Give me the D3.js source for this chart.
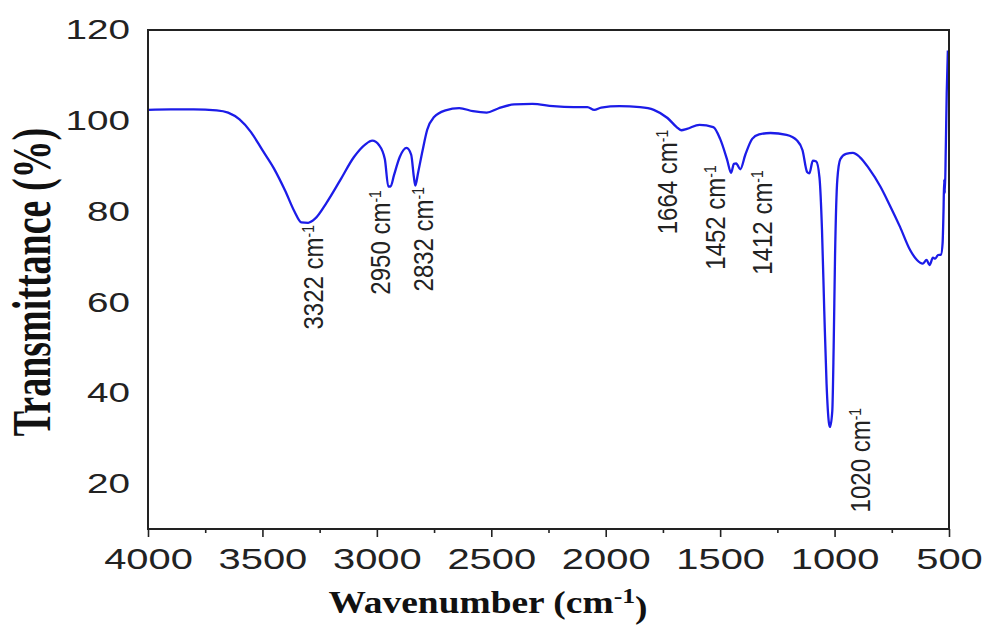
<!DOCTYPE html>
<html>
<head>
<meta charset="utf-8">
<script src="https://cdn.jsdelivr.net/npm/d3@7"></script>
<style>
  body { margin: 0; background: #fff; }
  svg.vis { display: block; }
  .tick text { font-family: "Liberation Sans", Arial, sans-serif; fill: #222; }
  .tick line { stroke: #222; stroke-width: 1.6; }
</style>
</head>
<body>
<svg class="vis" width="988" height="625"></svg>
<script>
// FTIR spectrum
const wavenumber = [
  4000, 3900, 3800, 3700, 3650, 3600, 3550, 3500, 3450, 3400, 3360, 3330, 3300, 3270,
  3220, 3160, 3100, 3050, 3020, 2990, 2965, 2950, 2940, 2925, 2900, 2870, 2850, 2838,
  2832, 2820, 2800, 2780, 2750, 2700, 2640, 2580, 2520, 2470, 2400, 2320, 2230, 2140,
  2080, 2050, 2020, 1940, 1850, 1790, 1730, 1690, 1670, 1645, 1590, 1530, 1500, 1470,
  1452, 1440, 1430, 1412, 1390, 1360, 1330, 1280, 1210, 1165, 1140, 1120, 1110, 1095,
  1080, 1066, 1055, 1045, 1035, 1025, 1020, 1010, 1004, 998, 988, 975, 950, 920, 890,
  850, 800, 760, 714, 670, 640, 615, 598, 585, 570, 560, 548, 535, 528, 524, 521, 518,
  514, 510, 505
];
const transmittance = [
  102.4, 102.5, 102.5, 102.3, 101.8, 100.3, 97.5, 93.5, 89.5, 84.5, 80, 77.6, 77.5, 78.4,
  81.9, 86.9, 92, 94.8, 95.6, 94.6, 91.5, 85.5, 85.5, 88, 92, 94, 92.5, 87.5,
  85.7, 88.5, 93.5, 98, 100.8, 102.3, 102.8, 102.1, 101.8, 102.7, 103.6, 103.7, 103.2, 103,
  103, 102.4, 102.9, 103.2, 103, 102.4, 100.6, 98.6, 97.9, 98.2, 99.1, 98.6, 96, 91.5,
  88.5, 90.5, 90.6, 89.3, 92.5, 96, 97, 97.3, 96.9, 95.7, 93.5, 88.7, 88.4, 91.2,
  91, 87.5, 76, 58, 42, 33.5, 32.5, 36, 50, 70, 87, 91.5, 92.7, 92.9, 92,
  89.5, 85.5, 81.5, 76.6, 71.5, 69.3, 68.5, 69.3, 68.2, 69.8, 69.6, 70.4, 70.5, 73, 80, 87, 84,
  94, 106, 115.5
];

const xTicks = [4000, 3500, 3000, 2500, 2000, 1500, 1000, 500];
const xMinorTicks = [3750, 3250, 2750, 2250, 1750, 1250, 750];
const yTicks = [20, 40, 60, 80, 100, 120];

// peak labels: text and the (wavenumber, transmittance) spot where each label ends
const peakNames = ["3322", "2950", "2832", "1664", "1452", "1412", "1020"];
const peakLabelW = [3235, 2943, 2755, 1689, 1479, 1273, 845];
const peakLabelT = [77.0, 84.7, 85.4, 98.0, 90.2, 89.1, 36.7];

const v = {
  box: { left: 148, right: 949, top: 30, bottom: 529 },

  render: () => {
    const b = v.box;
    const svg = d3.select("svg.vis");

    const x = d3.scaleLinear().domain([4000, 500]).range([b.left, b.right]);
    const y = d3.scaleLinear().domain([10, 120]).range([b.bottom, b.top]);

    // minor ticks
    svg.append("g")
      .attr("transform", `translate(0,${b.bottom})`)
      .call(d3.axisBottom(x).tickValues(xMinorTicks).tickSize(4).tickSizeOuter(0).tickFormat(""))
      .call(g => g.select(".domain").remove());

    // major ticks + labels
    svg.append("g")
      .attr("transform", `translate(0,${b.bottom})`)
      .call(d3.axisBottom(x).tickValues(xTicks).tickSize(8).tickSizeOuter(0)
        .tickPadding(11).tickFormat(d3.format("d")))
      .call(g => g.select(".domain").remove())
      .call(g => g.selectAll("text")
        .style("font-size", "30px")
        .attr("transform", "scale(1.33,1)"));

    svg.append("g")
      .attr("transform", `translate(${b.left},0)`)
      .call(d3.axisLeft(y).tickValues(yTicks).tickSize(0).tickSizeOuter(0).tickFormat(d3.format("d")))
      .call(g => g.select(".domain").remove())
      .call(g => g.selectAll("text")
        .style("font-size", "28px")
        .attr("x", 0)
        .attr("transform", "translate(-18,0) scale(1.38,1)"));

    // spectrum
    const line = d3.line()
      .x((d, i) => x(wavenumber[i]))
      .y(d => y(d))
      .curve(d3.curveMonotoneX);

    svg.append("path")
      .datum(transmittance)
      .attr("d", line)
      .attr("fill", "none")
      .attr("stroke", "#1c1ce8")
      .attr("stroke-width", 2.3)
      .attr("stroke-linejoin", "round");

    // frame
    svg.append("rect")
      .attr("x", b.left).attr("y", b.top)
      .attr("width", b.right - b.left).attr("height", b.bottom - b.top)
      .attr("fill", "none")
      .attr("stroke", "#222")
      .attr("stroke-width", 2);

    // peak labels
    peakNames.forEach((name, i) => {
      const t = svg.append("text")
        .attr("transform", `translate(${x(peakLabelW[i])},${y(peakLabelT[i])}) scale(1.15,1) rotate(-90)`)
        .attr("text-anchor", "end")
        .style("font-family", "'Liberation Sans', Arial, sans-serif")
        .style("font-size", "24px")
        .attr("fill", "#222");
      t.append("tspan").text(name + " cm");
      t.append("tspan").attr("dy", "-0.55em").style("font-size", "14px").text("-1");
    });

    // axis titles
    const xt = svg.append("text")
      .attr("transform", "translate(488,613) scale(1.17,1)")
      .attr("text-anchor", "middle")
      .style("font-family", "'Liberation Serif', 'Times New Roman', serif")
      .style("font-weight", "bold")
      .style("font-size", "32px")
      .attr("fill", "#111");
    xt.append("tspan").text("Wavenumber (cm");
    xt.append("tspan").attr("dy", "-0.45em").style("font-size", "22px").text("-1");
    xt.append("tspan").attr("dy", "0.45em").text(")");

    svg.append("text")
      .attr("transform", "translate(50,282) scale(1.45,1) rotate(-90)")
      .attr("text-anchor", "middle")
      .style("font-family", "'Liberation Serif', 'Times New Roman', serif")
      .style("font-weight", "bold")
      .style("font-size", "38px")
      .attr("fill", "#111")
      .text("Transmittance (%)");
  }
};

v.render();
</script>
</body>
</html>
